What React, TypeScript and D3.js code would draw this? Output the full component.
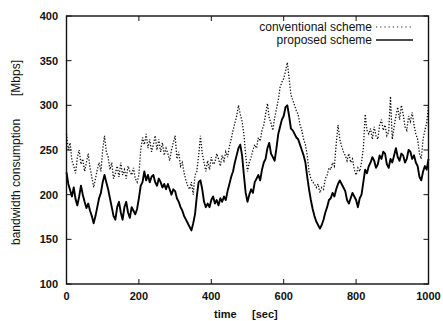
import React from "react";
import * as d3 from "d3";

const timeStep = 5;
const proposed = [
  225, 212, 205, 198, 208, 195, 188, 198, 210, 200, 192, 185, 190, 182, 176, 168, 176, 186, 196, 202,
  214, 222, 214, 206, 196, 186, 176, 172, 186, 192, 180, 172, 186, 192, 180, 174, 186, 182, 178, 184,
  196, 210, 214, 226, 216, 222, 214, 220, 222, 214, 210, 218, 214, 208, 212, 206, 212, 206, 200, 206,
  204, 196, 192, 186, 182, 176, 172, 168, 164, 160, 168, 178, 198, 214, 216, 206, 192, 186, 190, 186,
  194, 198, 190, 194, 188, 196, 192, 198, 194, 204, 212, 220, 226, 236, 244, 252, 256, 244, 222, 202,
  192, 200, 206, 202, 214, 218, 222, 216, 228, 236, 240, 252, 258, 246, 242, 238, 252, 268, 276, 284,
  288, 298, 300, 288, 274, 272, 268, 264, 262, 256, 250, 244, 236, 220, 206, 194, 184, 176, 170, 166,
  162, 166, 172, 180, 186, 194, 196, 202, 198, 206, 212, 216, 212, 208, 204, 194, 190, 196, 202, 198,
  194, 186, 196, 200, 214, 228, 224, 232, 236, 242, 238, 230, 234, 244, 240, 248, 246, 234, 230, 240,
  236, 244, 252, 242, 238, 246, 244, 236, 240, 250, 248, 240, 244, 236, 232, 220, 216, 226, 232, 228,
  240,
];
const conventional = [
  268, 250, 258, 238, 232, 224, 242, 250, 234, 240, 226, 236, 246, 230, 220, 208, 218, 228, 236, 226,
  250, 266, 248, 242, 228, 236, 218, 224, 232, 220, 236, 222, 228, 218, 232, 226, 222, 230, 218, 214,
  222, 250, 264, 256, 268, 252, 262, 248, 256, 266, 250, 262, 248, 258, 244, 252, 246, 238, 250, 258,
  266, 240, 248, 232, 236, 224, 216, 210, 206, 214, 200, 222, 226, 244, 266, 246, 236, 226, 238, 228,
  242, 234, 236, 246, 240, 232, 244, 238, 248, 242, 254, 262, 272, 280, 288, 300, 290, 282, 268, 244,
  226, 236, 242, 250, 256, 252, 264, 260, 272, 278, 290, 302, 286, 280, 272, 286, 296, 306, 320, 326,
  330, 338, 348, 330, 312, 306, 300, 294, 290, 278, 272, 262, 256, 244, 226, 218, 214, 212, 208, 212,
  202, 208, 206, 218, 222, 230, 228, 236, 232, 256, 278, 262, 254, 248, 244, 238, 246, 236, 240, 228,
  222, 230, 226, 236, 252, 290, 272, 268, 274, 262, 276, 266, 262, 278, 284, 272, 278, 266, 270, 310,
  262, 276, 288, 298, 284, 300, 290, 276, 272, 288, 282, 292, 278, 268, 262, 246, 240, 262, 272, 280,
  300,
];
const xTicks = [0, 200, 400, 600, 800, 1000];
const yTicks = [100, 150, 200, 250, 300, 350, 400];
const seriesNames = ["conventional scheme", "proposed scheme"];

const W = 443, H = 321;
const L = 66.5, R = 428.5, T = 16, B = 284;

export default function App() {
  const x = d3.scaleLinear().domain([0, 1000]).range([L, R]);
  const y = d3.scaleLinear().domain([100, 400]).range([B, T]);
  const line = d3
    .line<number>()
    .x((_, i) => x(i * timeStep))
    .y((d) => y(d));
  const font = "'Liberation Sans', Arial, Helvetica, sans-serif";
  return (
    <svg width={W} height={H} style={{ position: "absolute", left: 0, top: 0, background: "#fff" }}>
      <rect x={0} y={0} width={W} height={H} fill="#fff" />
      <path d={line(conventional) || ""} fill="none" stroke="#111" strokeWidth={1.3} strokeDasharray="1.3,1.7" />
      <path d={line(proposed) || ""} fill="none" stroke="#000" strokeWidth={1.9} strokeLinejoin="round" />
      <rect x={L} y={T} width={R - L} height={B - T} fill="none" stroke="#111" strokeWidth={1.4} />
      {xTicks.map((t) => (
        <g key={"x" + t}>
          <line x1={x(t)} x2={x(t)} y1={B} y2={B - 5} stroke="#111" strokeWidth={1} />
          <line x1={x(t)} x2={x(t)} y1={T} y2={T + 5} stroke="#111" strokeWidth={1} />
          <text x={x(t)} y={300} textAnchor="middle" fontFamily={font} fontWeight="bold" fontSize={11} fill="#111">
            {t}
          </text>
        </g>
      ))}
      {yTicks.map((t) => (
        <g key={"y" + t}>
          <line x1={L} x2={L + 5} y1={y(t)} y2={y(t)} stroke="#111" strokeWidth={1} />
          <line x1={R} x2={R - 5} y1={y(t)} y2={y(t)} stroke="#111" strokeWidth={1} />
          <text x={58} y={y(t) + 4} textAnchor="end" fontFamily={font} fontWeight="bold" fontSize={11} fill="#111">
            {t}
          </text>
        </g>
      ))}
      <text x={214} y={318} fontFamily={font} fontSize={11} fill="#111" fontWeight="bold">
        time
      </text>
      <text x={252} y={318} fontFamily={font} fontSize={11} fill="#111" fontWeight="bold">
        [sec]
      </text>
      <g transform="translate(20,245) rotate(-90)">
        <text x={0} y={0} fontFamily={font} fontSize={12} fill="#111">
          bandwidth consumption
        </text>
        <text x={149} y={0} fontFamily={font} fontSize={12} fill="#111">
          [Mbps]
        </text>
      </g>
      <text x={372} y={31} textAnchor="end" fontFamily={font} fontSize={12} fill="#111">
        {seriesNames[0]}
      </text>
      <line x1={376} x2={412} y1={27} y2={27} stroke="#222" strokeWidth={1} strokeDasharray="1.2,3" />
      <text x={372} y={44} textAnchor="end" fontFamily={font} fontSize={12} fill="#111">
        {seriesNames[1]}
      </text>
      <line x1={376} x2={413} y1={40} y2={40} stroke="#111" strokeWidth={1.6} />
    </svg>
  );
}
